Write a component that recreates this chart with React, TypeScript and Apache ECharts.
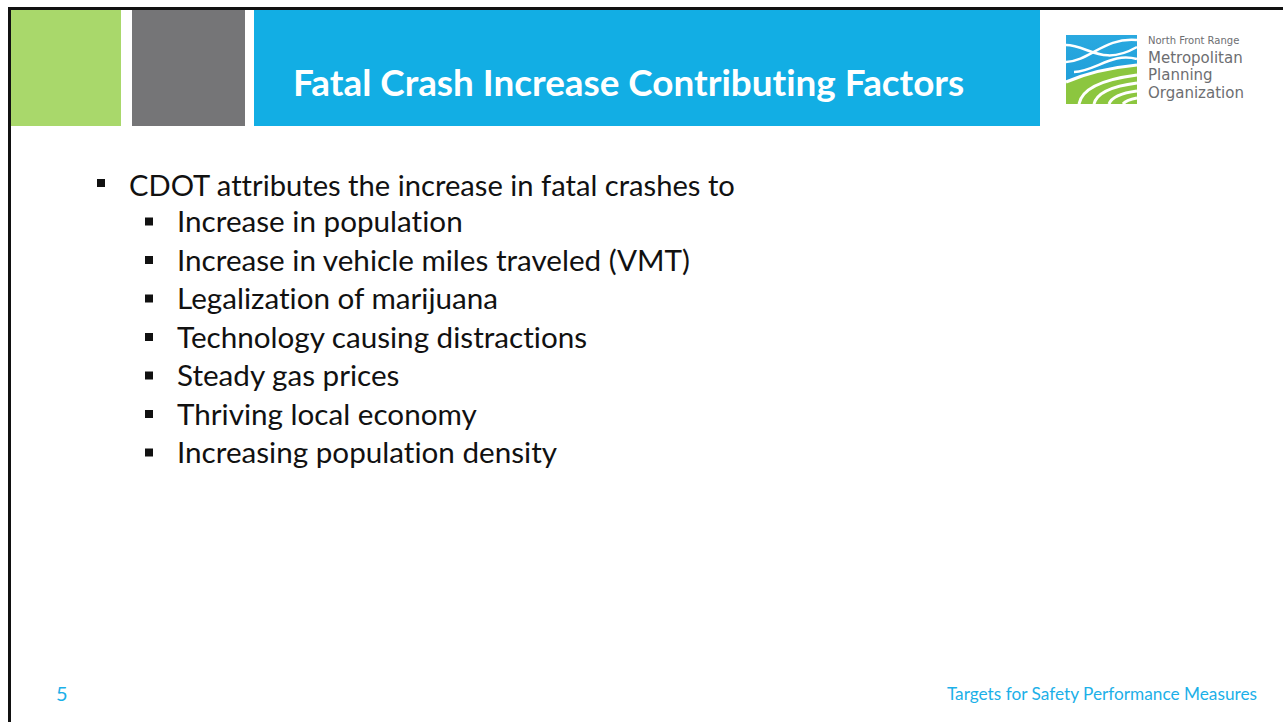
import React, { useEffect, useRef } from "react";
import * as echarts from "echarts";

const TITLE = "Fatal Crash Increase Contributing Factors";
const MAIN_BULLET = "CDOT attributes the increase in fatal crashes to";
const SUB_BULLETS = [
  "Increase in population",
  "Increase in vehicle miles traveled (VMT)",
  "Legalization of marijuana",
  "Technology causing distractions",
  "Steady gas prices",
  "Thriving local economy",
  "Increasing population density",
];
const PAGE_NUMBER = "5";
const FOOTER = "Targets for Safety Performance Measures";
const LOGO_SMALL = "North Front Range";
const LOGO_LINES = ["Metropolitan", "Planning", "Organization"];

const FONT = "Lato, 'Noto Sans', sans-serif";
const LOGO_FONT = "'DejaVu Sans', sans-serif";

const LOGO_PATHS: Record<string, string> = {
  logoGreen: "M 0 47 Q 30 34 71 30 L 71 69 L 0 69 Z",
  logoTopEdge: "M 0 47 Q 30 34 71 30",
  logoSep1: "M 13 69 Q 17 47 71 40",
  logoSep2: "M 28 69 Q 32 53 71 48",
  logoSep3: "M 43 69 Q 47 59 71 56",
  logoSep4: "M 57 69 Q 60 65 71 63",
  logoWave1: "M 0 10 C 22 10, 36 32, 71 12",
  logoWave2: "M 0 27 C 24 26, 38 2, 71 5",
  logoWave3: "M 8 37 C 30 36, 46 17, 71 24",
};

let registered = false;
function registerLogo() {
  if (registered) return;
  registered = true;
  Object.keys(LOGO_PATHS).forEach((k) => {
    echarts.graphic.registerShape(k, echarts.graphic.extendPath(LOGO_PATHS[k], {}) as any);
  });
}

function fitSize(text: string, weight: string, family: string, target: number, fallback: number): number {
  const ctx = document.createElement("canvas").getContext("2d");
  if (!ctx) return fallback;
  ctx.font = `${weight} 100px ${family}`;
  const w = ctx.measureText(text).width;
  if (!w) return fallback;
  return (100 * target) / w;
}

const NO_LIGA_CSS =
  '.slide-chart svg text, .slide-chart svg tspan { font-variant-ligatures: none !important; font-feature-settings: "liga" 0, "clig" 0, "dlig" 0 !important; }';

export default function App() {
  const ref = useRef<HTMLDivElement>(null);
  useEffect(() => {
    if (!ref.current) return;
    registerLogo();
    const chart = echarts.init(ref.current, undefined, { renderer: "svg" });

    const titleSize = fitSize(TITLE, "bold", "Lato", 672, 30);
    const mainSize = fitSize(MAIN_BULLET, "normal", "Lato", 606, 25);
    const subSize = fitSize(SUB_BULLETS[1], "normal", "Lato", 514, 25);
    const footSize = fitSize(FOOTER, "normal", "Lato", 311, 15);
    const logoBig = Math.min(15, fitSize(LOGO_LINES[0], "normal", "'DejaVu Sans'", 114, 15));
    const logoSmall = Math.min(10, fitSize(LOGO_SMALL, "normal", "'DejaVu Sans'", 100, 9.5));

    const elements: any[] = [];
    // header blocks
    elements.push({ type: "rect", shape: { x: 11, y: 10, width: 110, height: 116 }, style: { fill: "#a9d86b" } });
    elements.push({ type: "rect", shape: { x: 132, y: 10, width: 113, height: 116 }, style: { fill: "#757577" } });
    elements.push({ type: "rect", shape: { x: 254, y: 10, width: 786, height: 116 }, style: { fill: "#12aee4" } });
    // border
    elements.push({ type: "line", shape: { x1: 8, y1: 8.5, x2: 1283, y2: 8.5 }, style: { stroke: "#111", lineWidth: 3 } });
    elements.push({ type: "line", shape: { x1: 9.5, y1: 7, x2: 9.5, y2: 722 }, style: { stroke: "#111", lineWidth: 3 } });

    elements.push({
      type: "text", x: 293, y: 82,
      style: { text: TITLE, fill: "#ffffff", font: `bold ${titleSize}px ${FONT}`, textAlign: "left", textVerticalAlign: "middle" },
    });

    // logo icon
    const lx = 1066, ly = 35;
    elements.push({ type: "rect", shape: { x: lx, y: ly, width: 71, height: 69 }, style: { fill: new echarts.graphic.LinearGradient(0, 0, 0, 1, [{ offset: 0, color: "#2aa9e0" }, { offset: 1, color: "#1b9ad6" }]) } });
    elements.push({ type: "logoGreen", x: lx, y: ly, style: { fill: "#8cc63f" } });
    ["logoTopEdge", "logoSep1", "logoSep2", "logoSep3", "logoSep4"].forEach((k) =>
      elements.push({ type: k, x: lx, y: ly, style: { fill: "none", stroke: "#ffffff", lineWidth: 3 } })
    );
    ["logoWave1", "logoWave2", "logoWave3"].forEach((k) =>
      elements.push({ type: k, x: lx, y: ly, style: { fill: "none", stroke: "#ffffff", lineWidth: 2.5 } })
    );
    elements.push({
      type: "text", x: 1148, y: 40,
      style: { text: LOGO_SMALL, fill: "#6d6e71", font: `${logoSmall}px ${LOGO_FONT}`, textAlign: "left", textVerticalAlign: "middle" },
    });
    LOGO_LINES.forEach((t, i) =>
      elements.push({
        type: "text", x: 1148, y: 57.5 + i * 17.5,
        style: { text: t, fill: "#6d6e71", font: `${logoBig}px ${LOGO_FONT}`, textAlign: "left", textVerticalAlign: "middle" },
      })
    );

    // bullets
    elements.push({ type: "rect", shape: { x: 97, y: 179, width: 8, height: 8 }, style: { fill: "#111" } });
    elements.push({
      type: "text", x: 129, y: 184,
      style: { text: MAIN_BULLET, fill: "#111", font: `${mainSize}px ${FONT}`, textAlign: "left", textVerticalAlign: "middle" },
    });
    SUB_BULLETS.forEach((t, i) => {
      const cy = 221.5 + i * 38.5;
      elements.push({ type: "rect", shape: { x: 145, y: cy - 4, width: 8, height: 8 }, style: { fill: "#111" } });
      elements.push({
        type: "text", x: 177, y: cy - 1,
        style: { text: t, fill: "#111", font: `${subSize}px ${FONT}`, textAlign: "left", textVerticalAlign: "middle" },
      });
    });

    // footer
    elements.push({
      type: "text", x: 56, y: 693,
      style: { text: PAGE_NUMBER, fill: "#1cb0e8", font: `20px ${FONT}`, textAlign: "left", textVerticalAlign: "middle" },
    });
    elements.push({
      type: "text", x: 1257, y: 693,
      style: { text: FOOTER, fill: "#1cb0e8", font: `${footSize}px ${FONT}`, textAlign: "right", textVerticalAlign: "middle" },
    });

    chart.setOption({ animation: false, backgroundColor: "#ffffff", graphic: { elements } });
    return () => chart.dispose();
  }, []);
  return (
    <>
      <style>{NO_LIGA_CSS}</style>
      <div ref={ref} className="slide-chart" style={{ position: "fixed", left: 0, top: 0, width: 1283, height: 722 }} />
    </>
  );
}
